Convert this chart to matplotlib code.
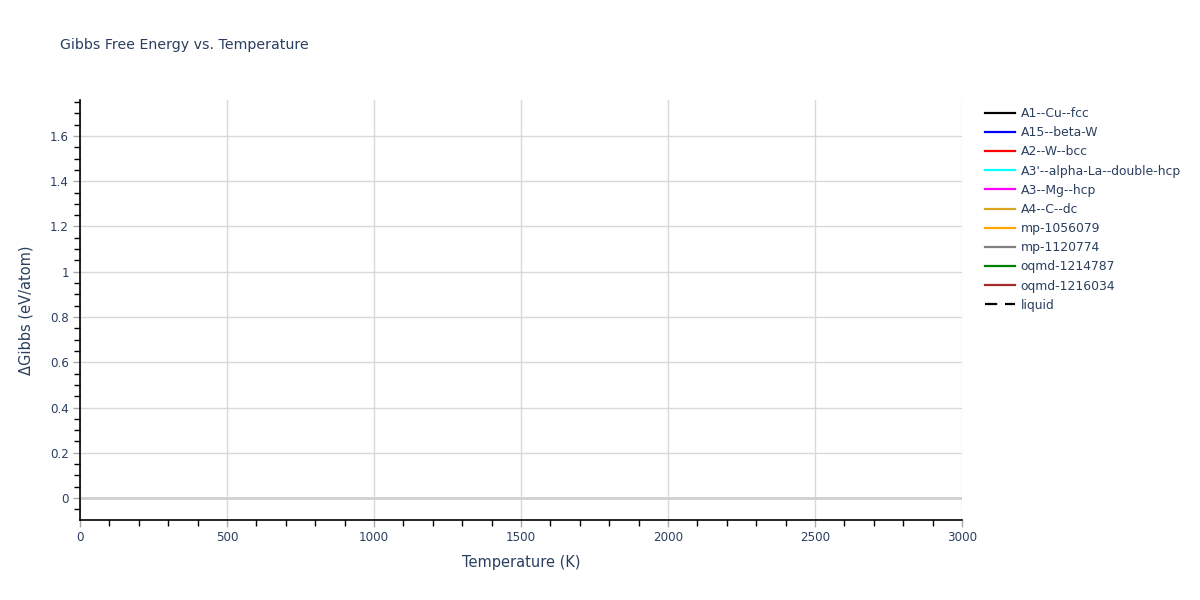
import matplotlib
matplotlib.use("Agg")
import matplotlib.pyplot as plt
from matplotlib.ticker import MultipleLocator

series_names = ["A1--Cu--fcc", "A15--beta-W", "A2--W--bcc", "A3'--alpha-La--double-hcp",
                "A3--Mg--hcp", "A4--C--dc", "mp-1056079", "mp-1120774",
                "oqmd-1214787", "oqmd-1216034", "liquid"]
series_colors = ["black", "blue", "red", "cyan", "magenta", "goldenrod", "orange",
                 "grey", "green", "brown", "black"]
series_dashed = [False] * 10 + [True]
# No data points are visible in the reference; each series is empty
series_T = [[] for _ in series_names]
series_G = [[] for _ in series_names]

x_ticks = [0, 500, 1000, 1500, 2000, 2500, 3000]
y_ticks = [0, 0.2, 0.4, 0.6, 0.8, 1.0, 1.2, 1.4, 1.6]
y_labels = ["0", "0.2", "0.4", "0.6", "0.8", "1", "1.2", "1.4", "1.6"]

txt = "#2a3f5f"
plt.rcParams['font.family'] = ['DejaVu Sans']

fig = plt.figure(figsize=(12, 6), dpi=100)
ax = fig.add_axes([80/1200, 80/600, 882/1200, 420/600])

for name, c, dashed, T, G in zip(series_names, series_colors, series_dashed, series_T, series_G):
    line, = ax.plot(T, G, color=c, linewidth=1.6, label=name)
    if dashed:
        line.set_dashes((5.5, 3.5))

ax.set_xlim(0, 3000)
ax.set_ylim(-0.097, 1.759)
ax.set_xticks(x_ticks)
ax.set_xticklabels([str(v) for v in x_ticks])
ax.set_yticks(y_ticks)
ax.set_yticklabels(y_labels)
ax.xaxis.set_minor_locator(MultipleLocator(100))
ax.yaxis.set_minor_locator(MultipleLocator(0.05))

ax.grid(True, which='major', color='#d9d9d9', linewidth=1)
ax.axhline(0, color='#d0d0d0', linewidth=2, zorder=1)
ax.set_axisbelow(True)

for s in ['top', 'right']:
    ax.spines[s].set_visible(False)
for s in ['left', 'bottom']:
    ax.spines[s].set_color('black')
    ax.spines[s].set_linewidth(1.2)

ax.tick_params(which='major', direction='out', length=5, width=1, color='#aaaaaa',
               labelsize=8.6, labelcolor=txt, pad=3)
ax.tick_params(which='minor', direction='out', length=4, width=1, color='black')

ax.set_xlabel("Temperature (K)", fontsize=10.5, color=txt, labelpad=8)
ax.set_ylabel("ΔGibbs (eV/atom)", fontsize=10.5, color=txt, labelpad=12)

fig.text(60/1200, 1 - 45/600, "Gibbs Free Energy vs. Temperature", fontsize=10.2,
         color=txt, va='center', ha='left')

leg = ax.legend(loc='upper left', bbox_to_anchor=(985/1200, 1 - 107/600),
                bbox_transform=fig.transFigure, frameon=False, fontsize=8.9,
                handlelength=2.4, handletextpad=0.5, labelspacing=0.5,
                borderaxespad=0, borderpad=0)
for t in leg.get_texts():
    t.set_color(txt)

fig.savefig("out.png", dpi=100)
